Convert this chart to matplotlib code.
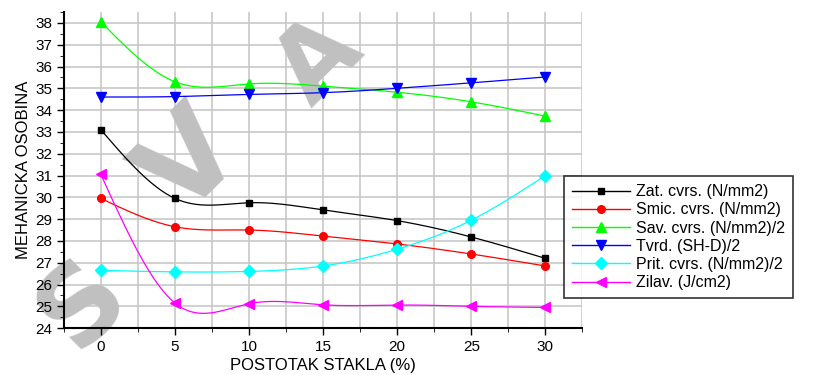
import numpy as np
import matplotlib.pyplot as plt
from matplotlib.ticker import MultipleLocator

plt.rcParams['font.family'] = ['Liberation Sans', 'DejaVu Sans']

# postotak stakla (%)
x = [0, 5, 10, 15, 20, 25, 30]

zat = [33.1, 29.95, 29.75, 29.42, 28.93, 28.18, 27.2]
smic = [29.95, 28.65, 28.5, 28.22, 27.86, 27.4, 26.85]
sav = [38.05, 35.3, 35.2, 35.1, 34.82, 34.38, 33.72]
tvrd = [34.6, 34.62, 34.72, 34.8, 35.0, 35.25, 35.52]
prit = [26.65, 26.58, 26.6, 26.85, 27.62, 28.95, 31.0]
zilav = [31.05, 25.15, 25.12, 25.07, 25.06, 25.0, 24.95]

labels = ['Zat. cvrs. (N/mm2)', 'Smic. cvrs. (N/mm2)', 'Sav. cvrs. (N/mm2)/2',
          'Tvrd. (SH-D)/2', 'Prit. cvrs. (N/mm2)/2', 'Zilav. (J/cm2)']
series = [zat, smic, sav, tvrd, prit, zilav]
colors = ['black', 'red', '#00ff00', 'blue', 'cyan', 'magenta']
markers = ['s', 'o', '^', 'v', 'D', '<']
msizes = [4.5, 5.5, 7, 7, 6, 7]


def spline(xs, ys, n=200):
    # natural cubic spline, only for drawing the smooth connecting line
    xs = np.asarray(xs, float)
    ys = np.asarray(ys, float)
    k = len(xs)
    h = np.diff(xs)
    A = np.zeros((k, k))
    b = np.zeros(k)
    A[0, 0] = A[-1, -1] = 1
    for i in range(1, k - 1):
        A[i, i - 1] = h[i - 1]
        A[i, i] = 2 * (h[i - 1] + h[i])
        A[i, i + 1] = h[i]
        b[i] = 6 * ((ys[i + 1] - ys[i]) / h[i] - (ys[i] - ys[i - 1]) / h[i - 1])
    m = np.linalg.solve(A, b)
    xx = np.linspace(xs[0], xs[-1], n)
    idx = np.clip(np.searchsorted(xs, xx) - 1, 0, k - 2)
    x0, x1 = xs[idx], xs[idx + 1]
    hh = x1 - x0
    t0, t1 = x1 - xx, xx - x0
    yy = (m[idx] * t0 ** 3 + m[idx + 1] * t1 ** 3) / (6 * hh) \
        + (ys[idx] / hh - m[idx] * hh / 6) * t0 \
        + (ys[idx + 1] / hh - m[idx + 1] * hh / 6) * t1
    return xx, yy


fig = plt.figure(figsize=(8.18, 3.75), dpi=100)
ax = fig.add_axes([0.078, 0.125, 0.634, 0.843])

ax.set_xlim(-2.5, 32.5)
ax.set_ylim(24, 38.5)
ax.xaxis.set_major_locator(MultipleLocator(5))
ax.xaxis.set_minor_locator(MultipleLocator(2.5))
ax.yaxis.set_major_locator(MultipleLocator(1))
ax.yaxis.set_minor_locator(MultipleLocator(0.5))

# grid drawn by hand so it sits under the watermark, tick labels stay on top
for v in np.arange(-2.5, 32.6, 2.5):
    ax.axvline(v, color='#c8c8c8', lw=1.2, zorder=0)
for v in np.arange(24, 38.6, 1):
    ax.axhline(v, color='#c8c8c8', lw=1.2, zorder=0)

handles = []
for ys, lab, c, mk, ms in zip(series, labels, colors, markers, msizes):
    xx, yy = spline(x, ys)
    ax.plot(xx, yy, color=c, lw=0.9, zorder=3)
    ax.plot(x, ys, ls='none', marker=mk, color=c, ms=ms, zorder=4)
    h, = ax.plot([], [], color=c, lw=1, marker=mk, ms=ms, label=lab)
    handles.append(h)

# grey watermark letters
for ch, px, py, fs in [('S', 0.1, 0.19, 78), ('V', 0.235, 0.56, 85), ('A', 0.39, 0.835, 72)]:
    ax.text(px, py, ch, transform=fig.transFigure, fontsize=fs, fontweight='bold',
            family='DejaVu Sans', color='#c0c0c0', rotation=45,
            ha='center', va='center', rotation_mode='anchor',
            clip_on=False, zorder=1.2)

ax.tick_params(direction='out', labelsize=11, length=5, width=1)
ax.tick_params(which='minor', direction='out', length=3)
for s in ['top', 'right']:
    ax.spines[s].set_visible(False)
ax.spines['left'].set_linewidth(1.5)
ax.spines['bottom'].set_linewidth(1.5)

ax.set_xlabel('POSTOTAK STAKLA (%)', fontsize=12, labelpad=3)
ax.set_ylabel('MEHANICKA OSOBINA', fontsize=12, labelpad=3)

leg = fig.legend(handles=handles, loc='upper left', bbox_to_anchor=(0.69, 0.53),
                 fontsize=11.5, frameon=True, fancybox=False, edgecolor='black',
                 handlelength=3.6, labelspacing=0.2, borderpad=0.5,
                 handletextpad=0.4, borderaxespad=0)
leg.get_frame().set_linewidth(1.2)

fig.savefig('out.png', dpi=100)
